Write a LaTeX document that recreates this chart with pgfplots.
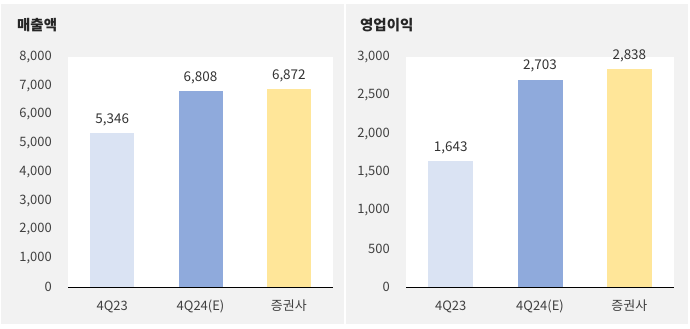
\documentclass[border=0pt]{standalone}
\usepackage{pgfplots}
\pgfplotsset{compat=1.18}
\usepackage{fontspec}
\setmainfont{Noto Sans CJK KR}
\definecolor{bgray}{HTML}{F2F2F2}
\definecolor{c1}{HTML}{DAE3F3}
\definecolor{c2}{HTML}{8FAADC}
\definecolor{c3}{HTML}{FFE699}
\definecolor{tick}{HTML}{404040}
\definecolor{baseline}{HTML}{D9D9D9}
\pgfplotsset{
  panel/.style={
    scale only axis, height=230bp,
    axis background/.style={fill=white},
    axis line style={draw=none},
    ybar, bar shift=0pt,
    xmin=-0.5, xmax=2.5, ymin=0,
    xtick={0,1,2}, xticklabels={4Q23,4Q24(E),증권사},
    major tick length=0pt,
    tick style={draw=none},
    /pgf/number format/assume math mode=true,
    /pgf/number format/1000 sep={,},
    scaled y ticks=false,
    ticklabel style={font=\fontsize{13}{15}\selectfont, text=tick},
    yticklabel style={anchor=east, inner sep=0pt, xshift=-16bp},
    xticklabel style={anchor=base, inner sep=0pt, yshift=-23bp},
    nodes near coords={\pgfmathprintnumber[1000 sep={,}]{\pgfplotspointmeta}},
    every node near coord/.append style={font=\fontsize{13.5}{15}\selectfont, text=black!80, anchor=base, inner sep=0pt, yshift=10bp},
    clip=false,
    extra description/.code={\draw[baseline, line width=0.8bp] (rel axis cs:0,0) -- (rel axis cs:1,0);},
  }
}
\begin{document}
\begin{tikzpicture}[x=1bp,y=1bp]
\path[use as bounding box, fill=white] (0,0) rectangle (690,328);
\fill[bgray] (1,4) rectangle (344,324);
\fill[bgray] (346,4) rectangle (688,324);
\node[anchor=base west, inner sep=0pt, font=\bfseries\fontsize{14.5}{16}\selectfont, text=black!85] at (17,298) {매출액};
\node[anchor=base west, inner sep=0pt, font=\bfseries\fontsize{14.5}{16}\selectfont, text=black!85] at (360,298) {영업이익};
\begin{axis}[panel, at={(68bp,41bp)}, anchor=south west, width=265bp, bar width=44bp,
  ymax=8000, ytick={0,1000,...,8000}]
\addplot[fill=c1, draw=none] coordinates {(0,5346)};
\addplot[fill=c2, draw=none] coordinates {(1,6808)};
\addplot[fill=c3, draw=none] coordinates {(2,6872)};
\end{axis}
\begin{axis}[panel, at={(406bp,41bp)}, anchor=south west, width=268bp, bar width=45bp,
  ymax=3000, ytick={0,500,...,3000}]
\addplot[fill=c1, draw=none] coordinates {(0,1643)};
\addplot[fill=c2, draw=none] coordinates {(1,2703)};
\addplot[fill=c3, draw=none] coordinates {(2,2838)};
\end{axis}
\end{tikzpicture}
\end{document}
